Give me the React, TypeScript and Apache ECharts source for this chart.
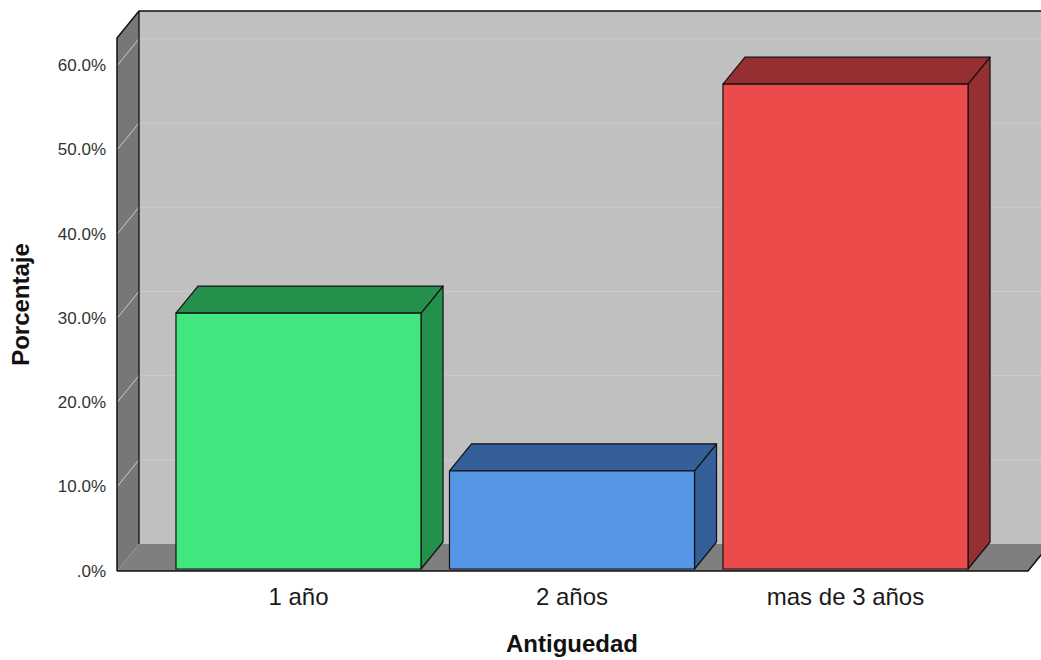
import React, { useEffect, useRef } from "react";
import * as echarts from "echarts";

// Antigüedad distribution (percent of respondents)
const categories = ["1 año", "2 años", "mas de 3 años"];
const percentages = [30.5, 11.7, 57.8];
const yTicks = [0, 10, 20, 30, 40, 50, 60];

const frontColors = ["#42e67e", "#5596e6", "#ec4b4c"];
const shadeColors = ["#25904b", "#345f99", "#952f31"];

const Y_MAX = 63.3;
// depth offset of the pseudo-3D box (pixels)
const DX = 22;
const DY = -27;
const FONT = '"Liberation Sans", Arial, Helvetica, sans-serif';

export default function App() {
  const ref = useRef<HTMLDivElement>(null);

  useEffect(() => {
    const chart = echarts.init(ref.current!, null, { renderer: "svg" });

    const wallsItem = (_params: any, api: any) => {
      const [x0, yBottom] = api.coord([0, 0]);
      const [x1] = api.coord([1, 0]);
      const yTop = api.coord([0, Y_MAX])[1];
      const far = x1 + DX + 30;
      const children: any[] = [];
      // back wall
      children.push({
        type: "polygon",
        shape: {
          points: [
            [x0 + DX, yTop + DY],
            [far, yTop + DY],
            [far, yBottom + DY],
            [x0 + DX, yBottom + DY],
          ],
        },
        style: { fill: "#c0c0c0" },
      });
      // floor
      children.push({
        type: "polygon",
        shape: {
          points: [
            [x0, yBottom],
            [x1, yBottom],
            [x1 + DX, yBottom + DY],
            [x0 + DX, yBottom + DY],
          ],
        },
        style: { fill: "#7f7f7f" },
      });
      // left side wall
      children.push({
        type: "polygon",
        shape: {
          points: [
            [x0, yTop],
            [x0 + DX, yTop + DY],
            [x0 + DX, yBottom + DY],
            [x0, yBottom],
          ],
        },
        style: { fill: "#777777" },
      });
      // grid lines: across side wall then along back wall
      yTicks
        .filter((t) => t > 0)
        .forEach((t) => {
          const y = api.coord([0, t])[1];
          children.push({
            type: "polyline",
            shape: {
              points: [
                [x0, y],
                [x0 + DX, y + DY],
                [far, y + DY],
              ],
            },
            style: { stroke: "#cbcbcb", lineWidth: 1, fill: null },
          });
        });
      // black edges
      children.push({
        type: "polyline",
        shape: {
          points: [
            [x0, yBottom],
            [x0, yTop],
            [x0 + DX, yTop + DY],
            [far, yTop + DY],
          ],
        },
        style: { stroke: "#111", lineWidth: 1.5, fill: null },
      });
      children.push({
        type: "line",
        shape: { x1: x0 + DX, y1: yTop + DY, x2: x0 + DX, y2: yBottom + DY },
        style: { stroke: "#111", lineWidth: 1.3 },
      });
      children.push({
        type: "polyline",
        shape: {
          points: [
            [x0, yBottom],
            [x1, yBottom],
            [x1 + DX, yBottom + DY],
          ],
        },
        style: { stroke: "#111", lineWidth: 1.5, fill: null },
      });
      return { type: "group", children };
    };

    const barItem = (params: any, api: any) => {
      const idx = api.value(0);
      const val = api.value(1);
      const [cx, yt] = api.coord([idx, val]);
      const yb = api.coord([idx, 0])[1];
      const w = api.size([1, 0])[0] * 0.896;
      const xl = cx - w / 2;
      const xr = cx + w / 2;
      const edge = { stroke: "#111", lineWidth: 1.2, lineJoin: "round" };
      const i = params.dataIndex;
      return {
        type: "group",
        children: [
          {
            type: "polygon",
            shape: {
              points: [
                [xr, yt],
                [xr + DX, yt + DY],
                [xr + DX, yb + DY],
                [xr, yb],
              ],
            },
            style: { fill: shadeColors[i], ...edge },
          },
          {
            type: "polygon",
            shape: {
              points: [
                [xl, yt],
                [xl + DX, yt + DY],
                [xr + DX, yt + DY],
                [xr, yt],
              ],
            },
            style: { fill: shadeColors[i], ...edge },
          },
          {
            type: "polygon",
            shape: {
              points: [
                [xl, yt],
                [xr, yt],
                [xr, yb],
                [xl, yb],
              ],
            },
            style: { fill: frontColors[i], ...edge },
          },
        ],
      };
    };

    const option = {
      animation: false,
      backgroundColor: "#ffffff",
      textStyle: { fontFamily: FONT },
      grid: [
        { left: 117, top: 38, width: 911, height: 533 },
        { left: 161.75, top: 38, width: 820.5, height: 533 },
      ],
      xAxis: [
        { type: "value", gridIndex: 0, min: 0, max: 1, show: false },
        {
          type: "category",
          gridIndex: 1,
          data: categories,
          axisLine: { show: false },
          axisTick: { show: false },
          splitLine: { show: false },
          axisLabel: {
            fontSize: 24,
            color: "#1a1a1a",
            fontFamily: FONT,
            margin: 15,
          },
          name: "Antiguedad",
          nameLocation: "middle",
          nameGap: 62,
          nameTextStyle: {
            fontSize: 24,
            fontWeight: "bold",
            color: "#111",
            fontFamily: FONT,
          },
        },
      ],
      yAxis: [
        {
          type: "value",
          gridIndex: 0,
          min: 0,
          max: Y_MAX,
          interval: 10,
          axisLine: { show: false },
          axisTick: { show: false },
          splitLine: { show: false },
          axisLabel: {
            fontSize: 17,
            color: "#333",
            fontFamily: FONT,
            margin: 11,
            showMaxLabel: false,
            formatter: (v: number) => (v === 0 ? ".0%" : v.toFixed(1) + "%"),
          },
          name: "Porcentaje",
          nameLocation: "middle",
          nameRotate: 90,
          nameGap: 85,
          nameTextStyle: {
            fontSize: 24,
            fontWeight: "bold",
            color: "#111",
            fontFamily: FONT,
          },
        },
        { type: "value", gridIndex: 1, min: 0, max: Y_MAX, show: false },
      ],
      series: [
        {
          type: "custom",
          xAxisIndex: 0,
          yAxisIndex: 0,
          renderItem: wallsItem,
          data: [[0, 0]],
          silent: true,
          z: 1,
        },
        {
          type: "custom",
          xAxisIndex: 1,
          yAxisIndex: 1,
          renderItem: barItem,
          data: percentages.map((v, i) => [i, v]),
          z: 2,
        },
      ],
    };

    chart.setOption(option);
    return () => chart.dispose();
  }, []);

  return (
    <div
      ref={ref}
      style={{
        position: "absolute",
        left: 0,
        top: 0,
        width: 1041,
        height: 660,
        background: "#fff",
      }}
    />
  );
}
